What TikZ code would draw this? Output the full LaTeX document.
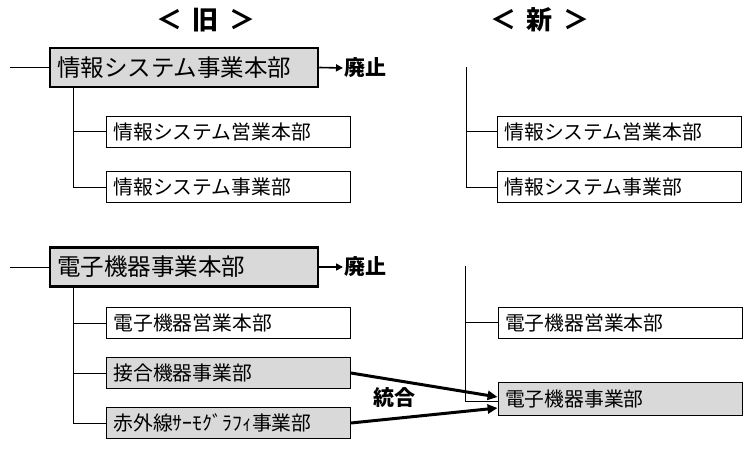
\documentclass[tikz,border=0pt]{standalone}
\usepackage{fontspec}
\setmainfont{Noto Sans CJK JP}
\usetikzlibrary{arrows.meta}
\definecolor{boxgray}{HTML}{D9D9D9}
\begin{document}
\begin{tikzpicture}[x=1pt,y=-1pt,
  mainbox/.style={draw, line width=2.5pt, fill=boxgray, minimum height=39pt, text width=254pt, inner xsep=7pt, inner ysep=1pt, align=left, font=\fontsize{23.5}{26}\selectfont},
  subbox/.style={draw, line width=0.8pt, fill=white, minimum height=31pt, text width=230pt, inner xsep=7pt, inner ysep=1pt, align=left, font=\fontsize{19.8}{22}\selectfont},
  graybox/.style={subbox, fill=boxgray},
  thinline/.style={line width=0.8pt},
  header/.style={font=\fontsize{26}{30}\selectfont\bfseries},
  boldlabel/.style={font=\fontsize{21}{24}\selectfont\bfseries, inner sep=1pt},
  haishi/.style={line width=1.6pt, -{Triangle[length=7pt,width=7pt]}},
  merge/.style={line width=3pt, -{Triangle[length=10pt,width=9pt]}}]
\useasboundingbox (0,0) rectangle (750,457);

% headers
\node[header] (hOld) at (206,20) {＜\hspace{0.4em}旧\hspace{0.4em}＞};
\node[header] (hNew) at (540,20) {＜\hspace{0.4em}新\hspace{0.4em}＞};

% ---------- top group (old) ----------
\node[mainbox] (A) at (184,67.5) {情報システム事業本部};
\node[subbox] (A1) at (228.5,131.5) {情報システム営業本部};
\node[subbox] (A2) at (228.5,187) {情報システム事業部};
\coordinate (Ain) at (10,67.5);
\draw[thinline] (Ain) -- (A.west);
\coordinate (Atr) at (73,87);
\draw[thinline] (Atr) |- (A2.west);
\draw[thinline] (Atr |- A1.west) -- (A1.west);
\node[boldlabel, anchor=west] (Ax) at (343,68) {廃止};
\draw[haishi] (A.east) -- (Ax.west);

% ---------- top group (new) ----------
\node[subbox] (B1) at (619.5,131.5) {情報システム営業本部};
\node[subbox] (B2) at (619.5,187) {情報システム事業部};
\coordinate (Btop) at (466,67);
\draw[thinline] (Btop) |- (B2.west);
\draw[thinline] (Btop |- B1.west) -- (B1.west);

% ---------- bottom group (old) ----------
\node[mainbox] (C) at (184,267) {電子機器事業本部};
\node[subbox] (C1) at (228.5,323) {電子機器営業本部};
\node[graybox] (C2) at (228.5,373) {接合機器事業部};
\node[graybox] (C3) at (228.5,423) {赤外線ｻｰﾓｸﾞﾗﾌｨ事業部};
\coordinate (Cin) at (10,267);
\draw[thinline] (Cin) -- (C.west);
\coordinate (Ctr) at (73,287);
\draw[thinline] (Ctr) |- (C3.west);
\draw[thinline] (Ctr |- C1.west) -- (C1.west);
\draw[thinline] (Ctr |- C2.west) -- (C2.west);
\node[boldlabel, anchor=west] (Cx) at (343,267) {廃止};
\draw[haishi] (C.east) -- (Cx.west);

% ---------- bottom group (new) ----------
\node[subbox] (D1) at (620,322.5) {電子機器営業本部};
\node[graybox, minimum height=33pt] (D2) at (620,398.5) {電子機器事業部};
\coordinate (Dtop) at (465,266);
\draw[thinline] (Dtop) |- ([yshift=-2.5pt]D2.west);
\draw[thinline] (Dtop |- D1.west) -- (D1.west);

% merge arrows
\draw[merge] (C2.east) -- ([yshift=1.5pt]D2.west);
\draw[merge] (C3.east) -- ([yshift=-9.5pt]D2.west);
\node[boldlabel] (merge) at (394,398) {統合};
\end{tikzpicture}
\end{document}
